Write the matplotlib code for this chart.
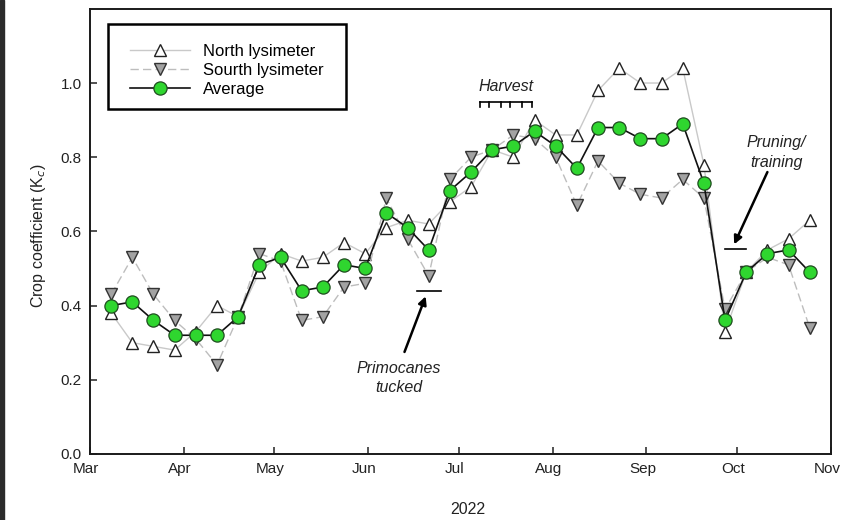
import matplotlib
matplotlib.use("Agg")
import matplotlib.dates as mdates
import matplotlib.pyplot as plt
import matplotlib.transforms as mtransforms
import pandas as pd
from matplotlib.patches import Rectangle

plt.rcParams["font.family"] = ["Liberation Sans", "DejaVu Sans"]

# weekly crop coefficients, 2022 season
dates = pd.date_range("2022-03-08", periods=34, freq="7D")
north = [0.38, 0.30, 0.29, 0.28, 0.33, 0.40, 0.37, 0.49, 0.54, 0.52, 0.53, 0.57,
         0.54, 0.61, 0.63, 0.62, 0.68, 0.72, 0.82, 0.80, 0.90, 0.86, 0.86, 0.98,
         1.04, 1.00, 1.00, 1.04, 0.78, 0.33, 0.49, 0.55, 0.58, 0.63]
south = [0.43, 0.53, 0.43, 0.36, 0.31, 0.24, 0.37, 0.54, 0.52, 0.36, 0.37, 0.45,
         0.46, 0.69, 0.58, 0.48, 0.74, 0.80, 0.82, 0.86, 0.85, 0.80, 0.67, 0.79,
         0.73, 0.70, 0.69, 0.74, 0.69, 0.39, 0.49, 0.53, 0.51, 0.34]
average = [0.40, 0.41, 0.36, 0.32, 0.32, 0.32, 0.37, 0.51, 0.53, 0.44, 0.45, 0.51,
           0.50, 0.65, 0.61, 0.55, 0.71, 0.76, 0.82, 0.83, 0.87, 0.83, 0.77, 0.88,
           0.88, 0.85, 0.85, 0.89, 0.73, 0.36, 0.49, 0.54, 0.55, 0.49]

harvest_days = ["2022-07-08", "2022-07-11", "2022-07-15",
                "2022-07-18", "2022-07-22", "2022-07-25"]
month_ticks = ["2022-%02d-01" % m for m in range(3, 12)]
yticks = [0.0, 0.2, 0.4, 0.6, 0.8, 1.0]


def d(s):
    return mdates.date2num(pd.Timestamp(s))


fig = plt.figure(figsize=(8.41, 5.20), dpi=100)
ax = fig.add_axes([0.107, 0.127, 0.881, 0.856])

ax.plot(dates, north, color="#c9c9c9", lw=1.0, ls="-", marker="^", ms=8.5,
        mfc="white", mec="#222222", mew=1.0, label="North lysimeter", zorder=2)
ax.plot(dates, south, color="#bdbdbd", lw=1.0, ls=(0, (6, 3)), marker="v", ms=8.5,
        mfc="#a3a3a3", mec="#333333", mew=1.0, label="Sourth lysimeter", zorder=2)
ax.plot(dates, average, color="#111111", lw=1.2, marker="o", ms=9.5,
        mfc="#2fd62f", mec="#1f4d1f", mew=0.9, label="Average", zorder=3)

ax.set_xlim(d("2022-03-01"), d("2022-11-01"))
ax.set_ylim(0, 1.2)
ax.set_xticks([d(m) for m in month_ticks])
ax.xaxis.set_major_formatter(mdates.DateFormatter("%b"))
ax.set_yticks(yticks)
ax.set_yticklabels(["%.1f" % v for v in yticks])
ax.tick_params(axis="both", direction="in", labelsize=11, colors="#222222",
               width=1.1, length=5)
ax.tick_params(axis="x", pad=6)
ax.tick_params(axis="y", pad=6)
for sp in ax.spines.values():
    sp.set_linewidth(1.4)
    sp.set_color("#1a1a1a")

# month names sit a little left of their ticks
shift = mtransforms.ScaledTranslation(-4 / 100, 0, fig.dpi_scale_trans)
for lbl in ax.get_xticklabels():
    lbl.set_transform(lbl.get_transform() + shift)

ax.set_ylabel("Crop coefficient (K$_c$)", fontsize=11.5, color="#222222")
ax.yaxis.set_label_coords(-0.056, 0.49)
ax.set_xlabel("2022", fontsize=11.5, color="#222222")
ax.xaxis.set_label_coords(0.51, -0.108)

# legend entries without their own frame, box drawn separately
leg = ax.legend(loc="upper left", bbox_to_anchor=(0.054, 0.922), borderaxespad=0,
                fontsize=12, frameon=False, handlelength=3.6, handletextpad=0.8,
                labelspacing=0.26, borderpad=0)
leg.set_zorder(6)
ax.add_patch(Rectangle((0.0243, 0.775), 0.3212, 0.191, transform=ax.transAxes,
                       facecolor="white", edgecolor="black", lw=1.8, zorder=5))

# harvest bracket
h = [d(s) for s in harvest_days]
ax.plot([h[0], h[-1]], [0.949, 0.949], color="black", lw=1.2)
for x in h:
    ax.plot([x, x], [0.949, 0.935], color="black", lw=1.2)
ax.text((h[0] + h[-1]) / 2, 0.99, "Harvest", ha="center", va="center",
        fontsize=11.5, style="italic", color="#222222")

# primocanes tucked
ax.plot([d("2022-06-17"), d("2022-06-25")], [0.44, 0.44], color="black", lw=1.2)
ax.annotate("", xy=(d("2022-06-20"), 0.425), xytext=(d("2022-06-13"), 0.275),
            arrowprops=dict(arrowstyle="-|>", color="black", lw=1.8,
                            mutation_scale=12, shrinkA=0, shrinkB=0))
ax.text(d("2022-06-11"), 0.205, "Primocanes\ntucked", ha="center", va="center",
        fontsize=11.5, style="italic", color="#222222", linespacing=1.4)

# pruning / training
ax.plot([d("2022-09-27"), d("2022-10-04")], [0.553, 0.553], color="black", lw=1.2)
ax.annotate("", xy=(d("2022-09-30"), 0.565), xytext=(d("2022-10-11"), 0.76),
            arrowprops=dict(arrowstyle="-|>", color="black", lw=1.8,
                            mutation_scale=12, shrinkA=0, shrinkB=0))
ax.text(d("2022-10-14"), 0.813, "Pruning/\ntraining", ha="center", va="center",
        fontsize=11.5, style="italic", color="#222222", linespacing=1.4)

fig.patches.append(Rectangle((0, 0), 4 / 841, 1, transform=fig.transFigure,
                             color="#2b2b2b", zorder=0))

fig.savefig("out.png", dpi=100)
